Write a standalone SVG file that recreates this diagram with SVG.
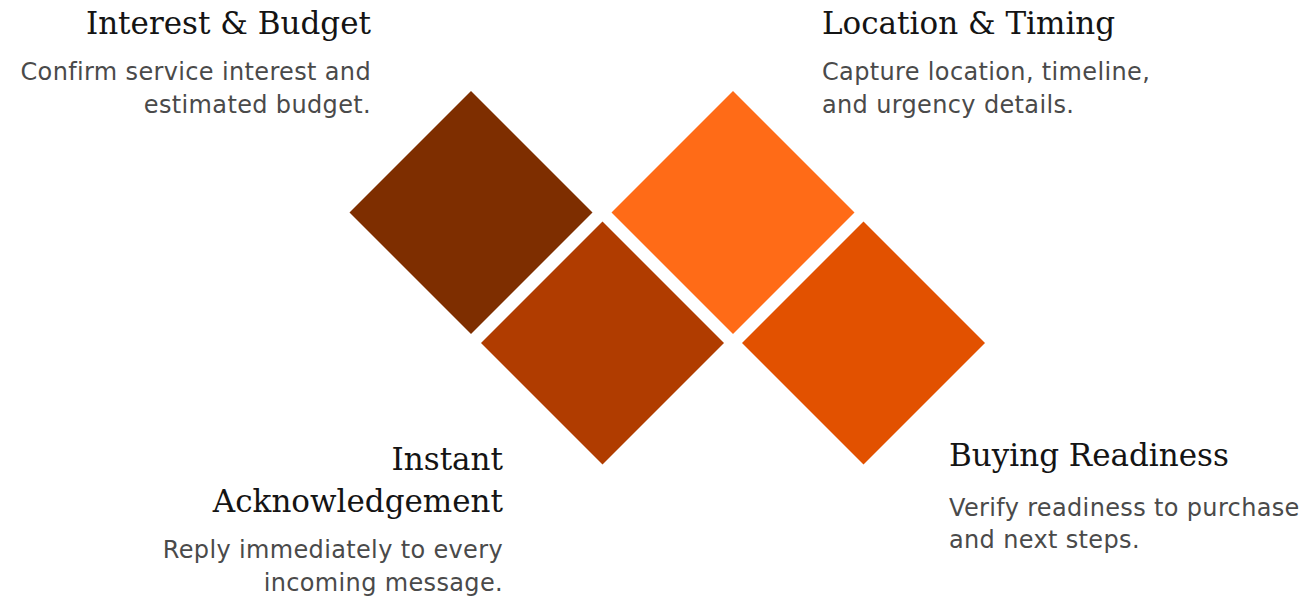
<svg xmlns="http://www.w3.org/2000/svg" width="1309" height="601" viewBox="0 0 1309 601">
  <style>
    .title { font-family: "DejaVu Serif", "Liberation Serif", serif; font-size: 31px; fill: #141414; }
    .body { font-family: "DejaVu Sans", "Liberation Sans", sans-serif; font-size: 24px; letter-spacing: 0.35px; fill: #4a4a4a; }
    .end { text-anchor: end; }
  </style>
  <rect width="1309" height="601" fill="#ffffff"/>

  <!-- Interest & Budget -->
  <g id="node-interest-budget">
    <polygon points="471,91 592.5,212.5 471,334 349.5,212.5" fill="#7e2e00"/>
    <text class="title end" x="371" y="34">Interest &amp; Budget</text>
    <text class="body end" x="371" y="80">Confirm service interest and</text>
    <text class="body end" x="371" y="113">estimated budget.</text>
  </g>

  <!-- Location & Timing -->
  <g id="node-location-timing">
    <polygon points="733,91 854.5,212.5 733,334 611.5,212.5" fill="#ff6b17"/>
    <text class="title" x="822" y="34">Location &amp; Timing</text>
    <text class="body" x="822" y="80">Capture location, timeline,</text>
    <text class="body" x="822" y="113">and urgency details.</text>
  </g>

  <!-- Instant Acknowledgement -->
  <g id="node-instant-ack">
    <polygon points="602.5,221.5 724,343 602.5,464.5 481,343" fill="#b03c00"/>
    <text class="title end" x="503" y="470">Instant</text>
    <text class="title end" x="503" y="512">Acknowledgement</text>
    <text class="body end" x="503" y="558">Reply immediately to every</text>
    <text class="body end" x="503" y="591">incoming message.</text>
  </g>

  <!-- Buying Readiness -->
  <g id="node-buying-readiness">
    <polygon points="863.5,221.5 985,343 863.5,464.5 742,343" fill="#e25100"/>
    <text class="title" x="949" y="466">Buying Readiness</text>
    <text class="body" x="949" y="516">Verify readiness to purchase</text>
    <text class="body" x="949" y="548">and next steps.</text>
  </g>

  <g id="connectors"/>
</svg>
